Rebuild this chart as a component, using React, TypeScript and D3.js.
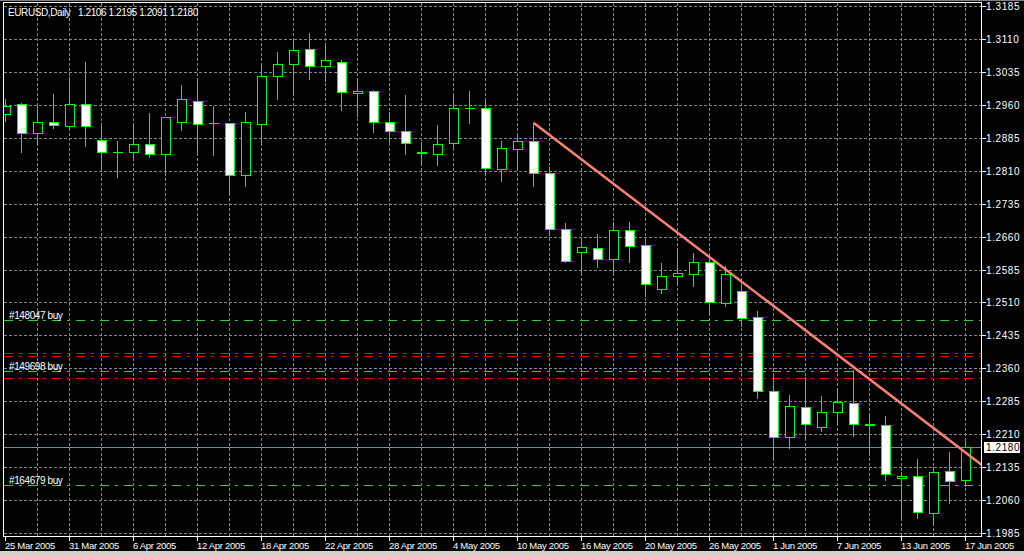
import React from "react";
import * as d3 from "d3";

const symbolName = "EURUSD,Daily";

const dates = [
  "25 Mar 2005","28 Mar 2005","29 Mar 2005","30 Mar 2005","31 Mar 2005","1 Apr 2005",
  "4 Apr 2005","5 Apr 2005","6 Apr 2005","7 Apr 2005","8 Apr 2005",
  "11 Apr 2005","12 Apr 2005","13 Apr 2005","14 Apr 2005","15 Apr 2005",
  "18 Apr 2005","19 Apr 2005","20 Apr 2005","21 Apr 2005","22 Apr 2005",
  "25 Apr 2005","26 Apr 2005","27 Apr 2005","28 Apr 2005","29 Apr 2005",
  "2 May 2005","3 May 2005","4 May 2005","5 May 2005","6 May 2005",
  "9 May 2005","10 May 2005","11 May 2005","12 May 2005","13 May 2005",
  "16 May 2005","17 May 2005","18 May 2005","19 May 2005","20 May 2005",
  "23 May 2005","24 May 2005","25 May 2005","26 May 2005","27 May 2005",
  "30 May 2005","31 May 2005","1 Jun 2005","2 Jun 2005","3 Jun 2005",
  "6 Jun 2005","7 Jun 2005","8 Jun 2005","9 Jun 2005","10 Jun 2005",
  "13 Jun 2005","14 Jun 2005","15 Jun 2005","16 Jun 2005","17 Jun 2005",
];

const opens = [
  1.2938,1.2961,1.2895,1.2920,1.2912,1.2961,1.2881,1.2852,1.2852,1.2870,
  1.2849,1.2922,1.2968,1.2918,1.2918,1.2800,1.2916,1.3025,1.3052,1.3086,
  1.3048,1.3057,1.2986,1.2991,1.2920,1.2900,1.2853,1.2849,1.2872,1.2953,
  1.2952,1.2813,1.2860,1.2877,1.2804,1.2677,1.2624,1.2633,1.2608,1.2674,
  1.2640,1.2540,1.2570,1.2574,1.2601,1.2509,1.2535,1.2476,1.2308,1.2203,
  1.2271,1.2226,1.2260,1.2280,1.2233,1.2230,1.2110,1.2114,1.2030,1.2126,
  1.2106,
];
const highs = [
  1.2973,1.2963,1.2957,1.2985,1.3023,1.3058,1.2912,1.2878,1.2913,1.2941,
  1.2932,1.3005,1.3014,1.2957,1.2918,1.2944,1.3050,1.3080,1.3106,1.3124,
  1.3094,1.3061,1.3020,1.2994,1.2944,1.2982,1.2875,1.2914,1.2980,1.2991,
  1.2968,1.2878,1.2891,1.2918,1.2818,1.2692,1.2654,1.2666,1.2694,1.2693,
  1.2655,1.2600,1.2632,1.2623,1.2607,1.2593,1.2549,1.2491,1.2342,1.2299,
  1.2340,1.2296,1.2315,1.2356,1.2258,1.2251,1.2123,1.2154,1.2135,1.2169,
  1.2195,
];
const lows = [
  1.2924,1.2853,1.2868,1.2908,1.2908,1.2867,1.2813,1.2796,1.2834,1.2842,
  1.2800,1.2903,1.2853,1.2846,1.2759,1.2776,1.2868,1.2973,1.2985,1.3019,
  1.3015,1.2949,1.2935,1.2899,1.2876,1.2849,1.2827,1.2824,1.2862,1.2919,
  1.2800,1.2787,1.2813,1.2774,1.2663,1.2601,1.2579,1.2591,1.2580,1.2601,
  1.2525,1.2532,1.2553,1.2547,1.2485,1.2503,1.2457,1.2293,1.2154,1.2178,
  1.2198,1.2217,1.2234,1.2205,1.2170,1.2105,1.2021,1.2020,1.2007,1.2054,
  1.2091,
];
const closes = [
  1.2957,1.2895,1.2920,1.2913,1.2961,1.2911,1.2852,1.2852,1.2870,1.2847,
  1.2932,1.2973,1.2916,1.2918,1.2800,1.2920,1.3025,1.3053,1.3084,1.3048,
  1.3061,1.2989,1.2991,1.2922,1.2900,1.2872,1.2851,1.2870,1.2952,1.2952,
  1.2815,1.2861,1.2877,1.2804,1.2677,1.2604,1.2636,1.2608,1.2674,1.2638,
  1.2551,1.2570,1.2576,1.2601,1.2510,1.2574,1.2474,1.2308,1.2204,1.2274,
  1.2233,1.2260,1.2283,1.2233,1.2231,1.2119,1.2114,1.2032,1.2123,1.2103,
  1.2180,
];

const priceTicks = [
  "1.3185","1.3110","1.3035","1.2960","1.2885","1.2810","1.2735","1.2660","1.2585",
  "1.2510","1.2435","1.2360","1.2285","1.2210","1.2135","1.2060","1.1985",
];

const orderLabels = ["#148047 buy", "#149698 buy", "#164679 buy"];
const orderPrices = [1.2469, 1.2353, 1.2094];
const stopPrices = [1.2396, 1.2388, 1.2337];

// trend line anchor points: [bar index, price]
const trendIndex = [33, 53];
const trendPrice = [1.2919, 1.2363];

const bidPrice = 1.218;

const W = 1024;
const H = 556;
const L = 3.5, T = 2.5, R = 981.5, B = 536.5;
const FONT = "'Liberation Sans', Arial, sans-serif";
const GRID = "#778899";
const CANDLE = "#00ff00";

export default function App() {
  const n = opens.length;
  const x = d3.scaleLinear().domain([0, n - 1]).range([5.5, 965.5]);
  const y = d3.scaleLinear().domain([1.1985, 1.3185]).range([533, 6]);
  const cy = (v: number) => Math.round(y(v)) + 0.5;

  const gridX = d3.range(2, n, 2);
  const labelIdx = d3.range(0, n, 4);

  const slope = (trendPrice[1] - trendPrice[0]) / (trendIndex[1] - trendIndex[0]);
  const endIdx = x.invert(R);
  const trendLine = d3.line<[number, number]>()
    .x((d) => x(d[0]))
    .y((d) => y(d[1]));
  const trendPts: [number, number][] = [
    [trendIndex[0], trendPrice[0]],
    [endIdx, trendPrice[0] + slope * (endIdx - trendIndex[0])],
  ];

  const last = n - 1;
  const header = [opens[last], highs[last], lows[last], closes[last]]
    .map((v) => v.toFixed(4))
    .join(" ");

  return (
    <svg
      width={W}
      height={H}
      style={{ position: "absolute", left: 0, top: 0, display: "block" }}
      shapeRendering="crispEdges"
    >
      <defs>
        <clipPath id="plot">
          <rect x={L + 0.5} y={T + 0.5} width={R - L - 1} height={B - T - 1} />
        </clipPath>
      </defs>
      <rect x={0} y={0} width={W} height={H} fill="#000" />
      {/* window border */}
      <rect x={0} y={0} width={W} height={1} fill="#808080" />
      <rect x={0} y={551} width={W} height={5} fill="#d4d0c8" />

      <g clipPath="url(#plot)">
        {/* grid */}
        {priceTicks.map((t) => (
          <line key={"h" + t} x1={L} x2={R} y1={cy(+t)} y2={cy(+t)}
            stroke={GRID} strokeDasharray="3,2" />
        ))}
        {gridX.map((i) => (
          <line key={"v" + i} x1={x(i)} x2={x(i)} y1={T} y2={B}
            stroke={GRID} strokeDasharray="3,2" />
        ))}

        {/* bid line */}
        <line x1={L} x2={R} y1={cy(bidPrice)} y2={cy(bidPrice)} stroke={GRID} />

        {/* order lines */}
        {stopPrices.map((p, i) => (
          <line key={"s" + i} x1={L} x2={R} y1={cy(p)} y2={cy(p)}
            stroke="#ff0000" strokeDasharray="9,6,3,6" />
        ))}
        {orderPrices.map((p, i) => (
          <g key={"o" + i}>
            <line x1={L} x2={R} y1={cy(p)} y2={cy(p)}
              stroke="#32cd32" strokeDasharray="9,6,3,6" />
            <text x={9} y={cy(p) - 2} fill="#fff" fontFamily={FONT}
              fontSize={10} letterSpacing={-0.4} shapeRendering="auto">
              {orderLabels[i]}
            </text>
          </g>
        ))}

        {/* candles */}
        {opens.map((o, i) => {
          const c = closes[i];
          const cx = x(i);
          const top = Math.round(y(Math.max(o, c)));
          const bot = Math.round(y(Math.min(o, c)));
          const bull = c > o;
          return (
            <g key={"c" + i}>
              <line x1={cx} x2={cx} y1={Math.round(y(highs[i]))} y2={Math.round(y(lows[i])) + 1}
                stroke={CANDLE} />
              {bot - top < 1 ? (
                <line x1={cx - 5} x2={cx + 5} y1={top + 0.5} y2={top + 0.5} stroke={CANDLE} />
              ) : (
                <rect x={cx - 4.5} y={top + 0.5} width={9} height={bot - top}
                  fill={bull ? "#000" : "#fff"} stroke={CANDLE} />
              )}
            </g>
          );
        })}

        {/* trend line */}
        <path d={trendLine(trendPts) || ""} stroke="#fa8072" strokeWidth={2.5}
          fill="none" shapeRendering="auto" />
      </g>

      {/* frame */}
      <rect x={L} y={T} width={R - L} height={B - T} fill="none" stroke="#fff" />

      {/* header */}
      <text x={8} y={15.5} fill="#fff" fontFamily={FONT} fontSize={10}
        letterSpacing={-0.4} shapeRendering="auto">{symbolName}</text>
      <text x={78} y={15.5} fill="#fff" fontFamily={FONT} fontSize={10}
        letterSpacing={-0.4} shapeRendering="auto">{header}</text>

      {/* price axis */}
      {priceTicks.map((t) => (
        <g key={"p" + t}>
          <line x1={R} x2={R + 4} y1={cy(+t)} y2={cy(+t)} stroke="#fff" />
          <text x={986} y={cy(+t) + 3.5} fill="#fff" fontFamily={FONT} fontSize={10}
            letterSpacing={0.6} shapeRendering="auto">{t}</text>
        </g>
      ))}
      <rect x={984} y={cy(bidPrice) - 6} width={36} height={11} fill="#fff" />
      <text x={986} y={cy(bidPrice) + 3.5} fill="#000" fontFamily={FONT} fontSize={10}
        letterSpacing={0.6} shapeRendering="auto">{bidPrice.toFixed(4)}</text>

      {/* date axis */}
      {labelIdx.map((i) => (
        <g key={"d" + i}>
          <line x1={x(i)} x2={x(i)} y1={B} y2={B + 4} stroke="#fff" />
          <text x={x(i) - 0.5} y={549} fill="#fff" fontFamily={FONT} fontSize={9.5}
            letterSpacing={-0.3} shapeRendering="auto">{dates[i]}</text>
        </g>
      ))}
    </svg>
  );
}
